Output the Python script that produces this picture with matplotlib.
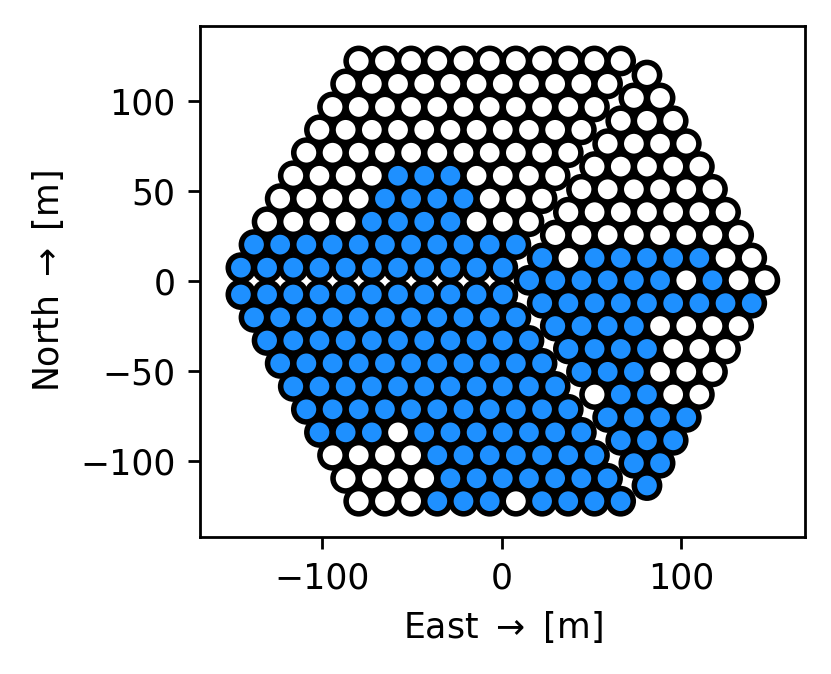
import numpy as np
import matplotlib
matplotlib.use('Agg')
import matplotlib.pyplot as plt

# antenna spacing along a row [m]
SEP = 14.6

# three sectors of the split hexagon, rows listed top to bottom
# y of each row, x of the first (west-most) dish, colour per dish (b=blue, w=white)
tl_y = [122.0, 109.3, 96.5, 83.8, 71.1, 58.3, 45.6, 32.8, 20.1, 7.3]
tl_x0 = [-79.7, -87.0, -94.3, -101.6, -108.9, -116.2, -123.5, -130.8, -138.1, -145.4]
tl_cols = ['wwwwwwwwwww',
           'wwwwwwwwwww',
           'wwwwwwwwwww',
           'wwwwwwwwwww',
           'wwwwwwwwwww',
           'wwwwbbbwwww',
           'wwwwbbbbwww',
           'wwwwbbbbwww',
           'bbbbbbbbbbb',
           'bbbbbbbbbbb']

bl_y = [-7.6, -20.3, -33.1, -45.8, -58.6, -71.3, -84.1, -96.8, -109.6, -122.3]
bl_x0 = [-145.4, -138.1, -130.8, -123.5, -116.2, -108.9, -101.6, -94.3, -87.0, -79.7]
bl_cols = ['bbbbbbbbbbb',
           'bbbbbbbbbbb',
           'bbbbbbbbbbb',
           'bbbbbbbbbbb',
           'bbbbbbbbbbb',
           'bbbbbbbbbbb',
           'bbbwbbbbbbb',
           'wwwwbbbbbbb',
           'wwwwbbbbbbb',
           'wwwbbbwbbbb']

r_y = [114.2, 101.5, 88.8, 76.1, 63.4, 50.8, 38.1, 25.4, 12.7, 0.3,
       -12.4, -25.1, -37.8, -50.5, -63.1, -75.8, -88.5, -101.2, -113.6]
r_x0 = [81.0, 73.7, 66.4, 59.1, 51.8, 44.5, 37.2, 29.9, 22.6, 15.3,
        22.6, 29.9, 37.2, 44.5, 51.8, 59.1, 66.4, 73.7, 81.0]
r_cols = ['w',
          'ww',
          'www',
          'wwww',
          'wwwww',
          'wwwwww',
          'wwwwwww',
          'wwwwwwww',
          'bwbbbbbww',
          'bbbbbbwbww',
          'bbbbbbbbb',
          'bbbbwwww',
          'bbbbwww',
          'bbbwww',
          'wbbww',
          'bbbb',
          'bbb',
          'bb',
          'b']

colour_map = {'b': 'dodgerblue', 'w': 'white'}


def sector_points(ys, x0s, cols):
    xs, yy, cs = [], [], []
    for y, x0, row in zip(ys, x0s, cols):
        for i, c in enumerate(row):
            xs.append(x0 + i * SEP)
            yy.append(y)
            cs.append(colour_map[c])
    return xs, yy, cs


fig = plt.figure(figsize=(831 / 250, 674 / 250), dpi=250)
ax = fig.add_axes([0.2407, 0.2037, 0.7280, 0.7582])

for ys, x0s, cols in [(tl_y, tl_x0, tl_cols), (bl_y, bl_x0, bl_cols), (r_y, r_x0, r_cols)]:
    x, y, c = sector_points(ys, x0s, cols)
    ax.scatter(x, y, s=53, c=c, edgecolors='k', linewidths=1.6, zorder=2)

ax.set_xlim(-168.2, 169.1)
ax.set_ylim(-142.0, 141.6)
ax.set_xticks([-100, 0, 100])
ax.set_yticks([-100, -50, 0, 50, 100])
ax.set_xlabel(r'East $\rightarrow$ [m]')
ax.set_ylabel(r'North $\rightarrow$ [m]')

fig.savefig('out.png', dpi=250)
